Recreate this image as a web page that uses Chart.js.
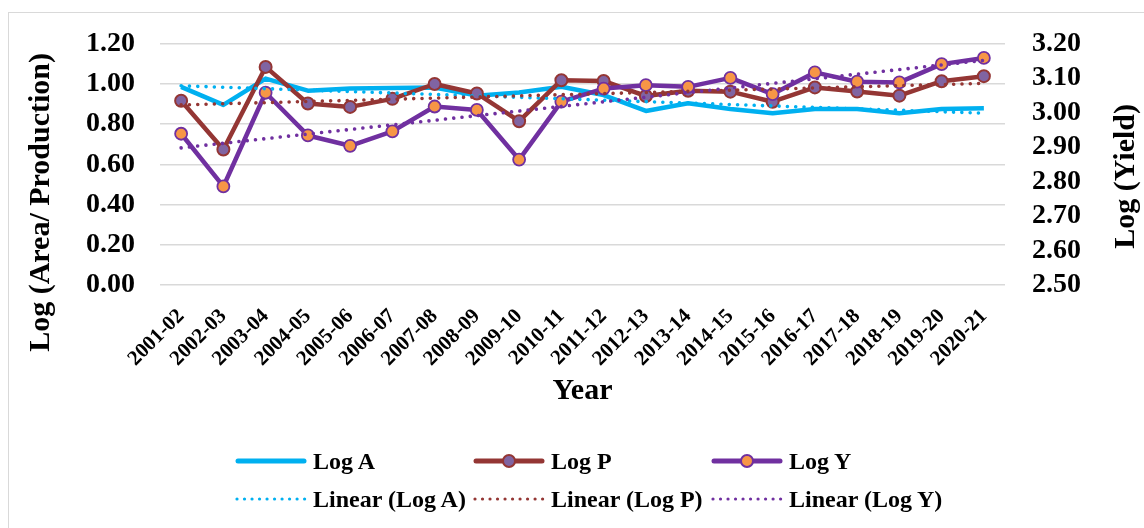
<!DOCTYPE html>
<html>
<head>
<meta charset="utf-8">
<script src="https://cdn.jsdelivr.net/npm/chart.js@4.4.1/dist/chart.umd.min.js"></script>
<style>
  html, body { margin: 0; padding: 0; background: #ffffff; }
  #wrap { position: relative; width: 1144px; height: 528px; overflow: hidden; background: #fff; }
  #frame { position: absolute; left: 8px; top: 12px; width: 1160px; height: 540px; border: 1.5px solid #d9d9d9; box-sizing: border-box; }
  #chart { position: absolute; left: 0; top: 0; }
  #legend { position: absolute; left: 0; top: 0; width: 1144px; height: 528px; pointer-events: none;
            font-family: "Liberation Serif", "Times New Roman", serif; font-weight: bold; font-size: 24px; color: #000; }
  .item { position: absolute; display: flex; align-items: center; height: 30px; white-space: nowrap; }
  .item svg { display: block; margin-right: 6px; }
</style>
</head>
<body>
<div id="wrap">
  <div id="frame"></div>
  <canvas id="chart" width="1144" height="528"></canvas>
  <div id="legend"></div>
</div>
<script>
// ---------------- data ----------------
const years = ['2001-02','2002-03','2003-04','2004-05','2005-06','2006-07','2007-08','2008-09','2009-10','2010-11',
               '2011-12','2012-13','2013-14','2014-15','2015-16','2016-17','2017-18','2018-19','2019-20','2020-21'];

const logA = [0.986, 0.896, 1.027, 0.967, 0.978, 0.980, 0.983, 0.942, 0.958, 0.986,
              0.945, 0.866, 0.904, 0.876, 0.855, 0.876, 0.876, 0.855, 0.876, 0.879];

const logP = [0.917, 0.674, 1.085, 0.903, 0.886, 0.926, 1.000, 0.953, 0.815, 1.019,
              1.015, 0.940, 0.966, 0.962, 0.912, 0.983, 0.963, 0.942, 1.014, 1.039];

const logY = [2.939, 2.786, 3.058, 2.934, 2.904, 2.946, 3.018, 3.008, 2.864, 3.032,
              3.070, 3.080, 3.075, 3.101, 3.054, 3.117, 3.090, 3.088, 3.141, 3.159];

// linear trend lines: values read at first and last year only (straight line drawn between them)
const trendA = [0.991, null, null, null, null, null, null, null, null, null,
                null, null, null, null, null, null, null, null, null, 0.855];
const trendP = [0.896, null, null, null, null, null, null, null, null, null,
                null, null, null, null, null, null, null, null, null, 1.003];
const trendY = [2.898, null, null, null, null, null, null, null, null, null,
                null, null, null, null, null, null, null, null, null, 3.152];

const leftTicks  = [0.00, 0.20, 0.40, 0.60, 0.80, 1.00, 1.20];
const rightTicks = [2.50, 2.60, 2.70, 2.80, 2.90, 3.00, 3.10, 3.20];

const seriesNames = ['Log A', 'Log P', 'Log Y', 'Linear (Log A)', 'Linear (Log P)', 'Linear (Log Y)'];
const xTitle = 'Year';
const leftTitle = 'Log (Area/ Production)';
const rightTitle = 'Log (Yield)';

// ---------------- styles ----------------
const C_A = '#00B0F0';
const C_P = '#943634';
const C_P_FILL = '#8064A2';
const C_Y = '#7030A0';
const C_Y_FILL = '#F79646';
const FONT = '"Liberation Serif", "Times New Roman", serif';

const verticalTitles = {
  id: 'verticalTitles',
  afterDraw(chart) {
    const ctx = chart.ctx;
    const ca = chart.chartArea;
    ctx.save();
    ctx.font = 'bold 30px ' + FONT;
    ctx.fillStyle = '#000';
    ctx.textAlign = 'center';
    ctx.textBaseline = 'middle';
    const draw = (t, x, y) => { ctx.save(); ctx.translate(x, y); ctx.rotate(-Math.PI / 2); ctx.fillText(t, 0, 0); ctx.restore(); };
    draw(leftTitle, 41, (ca.top + ca.bottom) / 2 + 38);
    draw(rightTitle, 1126, (ca.top + ca.bottom) / 2 + 12);
    ctx.restore();
  }
};

const dotted = [0.01, 8.3];

new Chart(document.getElementById('chart'), {
  type: 'line',
  data: {
    labels: years,
    datasets: [
      { label: seriesNames[0], data: logA, yAxisID: 'yL', borderColor: C_A, borderWidth: 4.5,
        pointRadius: 0, tension: 0, order: 6, borderJoinStyle: 'round' },
      { label: seriesNames[1], data: logP, yAxisID: 'yL', borderColor: C_P, borderWidth: 4.5,
        pointRadius: 6, pointBackgroundColor: C_P_FILL, pointBorderColor: C_P, pointBorderWidth: 2,
        tension: 0, order: 5, borderJoinStyle: 'round' },
      { label: seriesNames[2], data: logY, yAxisID: 'yR', borderColor: C_Y, borderWidth: 4.5,
        pointRadius: 6, pointBackgroundColor: C_Y_FILL, pointBorderColor: C_Y, pointBorderWidth: 1.8,
        tension: 0, order: 4, borderJoinStyle: 'round' },
      { label: seriesNames[3], data: trendA, yAxisID: 'yL', borderColor: C_A, borderWidth: 3.6,
        borderDash: dotted, borderCapStyle: 'round', pointRadius: 0, spanGaps: true, order: 3 },
      { label: seriesNames[4], data: trendP, yAxisID: 'yL', borderColor: C_P, borderWidth: 3.6,
        borderDash: dotted, borderCapStyle: 'round', pointRadius: 0, spanGaps: true, order: 2 },
      { label: seriesNames[5], data: trendY, yAxisID: 'yR', borderColor: C_Y, borderWidth: 3.6,
        borderDash: dotted, borderCapStyle: 'round', pointRadius: 0, spanGaps: true, order: 1 }
    ]
  },
  options: {
    responsive: false,
    animation: false,
    devicePixelRatio: 1,
    layout: { padding: { left: 0, right: 0, top: 42, bottom: 0 } },
    plugins: { legend: { display: false }, tooltip: { enabled: false } },
    scales: {
      x: {
        type: 'category',
        offset: true,
        grid: { display: false },
        border: { display: false },
        ticks: { color: '#000', font: { family: FONT, size: 21, weight: 'bold' },
                 minRotation: 45, maxRotation: 45, autoSkip: false, padding: 11 },
        title: { display: true, text: xTitle, color: '#000', font: { family: FONT, size: 30, weight: 'bold' },
                 padding: { top: 0, bottom: 119 } },
        afterFit: (s) => { s.height = 528 - 285; }
      },
      yL: {
        position: 'left',
        min: 0, max: 1.2,
        afterBuildTicks: (s) => { s.ticks = leftTicks.map(v => ({ value: v })); },
        grid: { color: '#d9d9d9', lineWidth: 1.6, drawTicks: false },
        border: { display: false },
        ticks: { color: '#000', font: { family: FONT, size: 28, weight: 'bold' }, padding: 25, autoSkip: false,
                 callback: (v) => Number(v).toFixed(2) },
        afterFit: (s) => { s.width = 160; }
      },
      yR: {
        position: 'right',
        min: 2.5, max: 3.2,
        afterBuildTicks: (s) => { s.ticks = rightTicks.map(v => ({ value: v })); },
        grid: { display: false, drawTicks: false },
        border: { display: false },
        ticks: { color: '#000', font: { family: FONT, size: 28, weight: 'bold' }, padding: 27, autoSkip: false,
                 callback: (v) => Number(v).toFixed(2) },
        afterFit: (s) => { s.width = 1144 - 1005; }
      }
    }
  },
  plugins: [verticalTitles]
});

// ---------------- legend (HTML) ----------------
const legendCols = [235, 473, 711];
const legendRows = [461, 499];
const legendSpecs = [
  { color: C_A, marker: null, dotted: false },
  { color: C_P, marker: { fill: C_P_FILL, stroke: C_P }, dotted: false },
  { color: C_Y, marker: { fill: C_Y_FILL, stroke: C_Y }, dotted: false },
  { color: C_A, marker: null, dotted: true },
  { color: C_P, marker: null, dotted: true },
  { color: C_Y, marker: null, dotted: true }
];
const legendEl = document.getElementById('legend');
seriesNames.forEach((name, i) => {
  const spec = legendSpecs[i];
  const row = Math.floor(i / 3), col = i % 3;
  const item = document.createElement('div');
  item.className = 'item';
  item.style.left = legendCols[col] + 'px';
  item.style.top = (legendRows[row] - 15) + 'px';
  let svg = '<svg width="72" height="20" viewBox="0 0 72 20" xmlns="http://www.w3.org/2000/svg">';
  if (spec.dotted) {
    svg += '<line x1="2" y1="10" x2="70" y2="10" stroke="' + spec.color + '" stroke-width="3.2" stroke-linecap="round" stroke-dasharray="0.01 7.5"/>';
  } else {
    svg += '<line x1="3" y1="10" x2="69" y2="10" stroke="' + spec.color + '" stroke-width="5" stroke-linecap="round"/>';
    if (spec.marker) {
      svg += '<circle cx="36" cy="10" r="6" fill="' + spec.marker.fill + '" stroke="' + spec.marker.stroke + '" stroke-width="2"/>';
    }
  }
  svg += '</svg>';
  item.innerHTML = svg + '<span>' + name + '</span>';
  legendEl.appendChild(item);
});
</script>
</body>
</html>
